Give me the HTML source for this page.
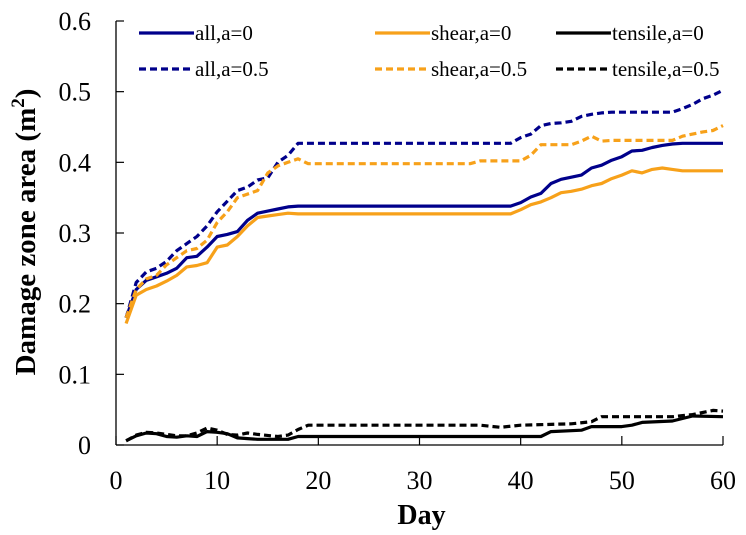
<!DOCTYPE html>
<html><head><meta charset="utf-8"><style>
html,body{margin:0;padding:0;background:#fff;}
svg{display:block;font-family:"Liberation Serif",serif;}
</style></head><body>
<svg id="chart" width="746" height="535">
<g id="axes"></g><g id="series"></g><g id="legend"></g>
</svg>
<script>
const xTicks=[0,10,20,30,40,50,60];
const yTicks=[0,0.1,0.2,0.3,0.4,0.5,0.6];
const yTickLabels=["0","0.1","0.2","0.3","0.4","0.5","0.6"];
const all0Days=[1,2,3,4,5,6,7,8,9,10,11,12,13,14,15,16,17,18,39,40,41,42,43,44,45,46,47,48,49,50,51,52,53,54,55,56,60];
const all0Vals=[0.18,0.22,0.233,0.238,0.243,0.25,0.265,0.267,0.28,0.295,0.298,0.302,0.318,0.328,0.331,0.334,0.337,0.338,0.338,0.343,0.351,0.356,0.37,0.376,0.379,0.382,0.392,0.396,0.403,0.408,0.416,0.417,0.421,0.424,0.426,0.427,0.427];
const shear0Days=[1,2,3,4,5,6,7,8,9,10,11,12,13,14,15,16,17,18,39,40,41,42,43,44,45,46,47,48,49,50,51,52,53,54,55,56,60];
const shear0Vals=[0.172,0.212,0.22,0.225,0.232,0.24,0.252,0.254,0.258,0.28,0.283,0.295,0.31,0.322,0.324,0.326,0.328,0.327,0.327,0.333,0.34,0.344,0.35,0.357,0.359,0.362,0.367,0.37,0.377,0.382,0.388,0.385,0.39,0.392,0.39,0.388,0.388];
const tens0Days=[1,2,3,4,5,6,7,8,9,10,11,12,13,14,17,18,42,43,46,47,50,51,52,55,57,60];
const tens0Vals=[0.006,0.013,0.017,0.016,0.012,0.011,0.013,0.012,0.019,0.018,0.016,0.01,0.009,0.008,0.008,0.012,0.012,0.019,0.021,0.026,0.026,0.028,0.032,0.034,0.041,0.04];
const all5Days=[1,2,3,4,5,6,7,8,9,10,11,12,13,14,15,16,17,18,39,40,41,42,43,44,45,46,47,48,49,55,56,57,58,59,60];
const all5Vals=[0.18,0.23,0.245,0.25,0.26,0.275,0.285,0.295,0.31,0.33,0.345,0.36,0.365,0.375,0.378,0.4,0.41,0.427,0.427,0.435,0.44,0.452,0.455,0.456,0.458,0.465,0.468,0.47,0.471,0.471,0.476,0.482,0.49,0.495,0.502];
const shear5Days=[1,2,3,4,5,6,7,8,9,10,11,12,13,14,15,16,17,18,19,35,36,40,41,42,45,46,47,48,49,55,56,58,59,60];
const shear5Vals=[0.18,0.22,0.235,0.24,0.255,0.265,0.275,0.278,0.29,0.315,0.33,0.35,0.355,0.36,0.385,0.395,0.4,0.405,0.398,0.398,0.402,0.402,0.41,0.425,0.425,0.43,0.437,0.43,0.431,0.431,0.437,0.443,0.445,0.452];
const tens5Days=[1,2,3,4,5,6,7,8,9,10,11,12,13,14,16,17,18,19,36,38,40,45,47,48,55,57,59,60];
const tens5Vals=[0.006,0.014,0.018,0.017,0.015,0.013,0.013,0.017,0.024,0.021,0.015,0.014,0.017,0.015,0.012,0.014,0.022,0.028,0.028,0.025,0.028,0.03,0.033,0.04,0.04,0.043,0.049,0.048];

const NS="http://www.w3.org/2000/svg";
const X0=116,X1=723,Y0=445,Y1=21;
function sx(d){return X0+(d-0)/(60-0)*(X1-X0);}
function sy(v){return Y0-(v-0)/(0.6-0)*(Y0-Y1);}
function mk(tag,attrs,parent){const e=document.createElementNS(NS,tag);for(const k in attrs)e.setAttribute(k,attrs[k]);parent.appendChild(e);return e;}
const axes=document.getElementById('axes');
let e=mk('line',{x1:X0,y1:Y1,x2:X0,y2:Y0,stroke:'#000','stroke-width':1.3},axes);


e=mk('line',{x1:X0,y1:Y0,x2:X1,y2:Y0,stroke:'#000','stroke-width':1.3},axes);


xTicks.forEach(t=>{
  mk('line',{x1:sx(t),y1:Y0,x2:sx(t),y2:Y0-9,stroke:'#000','stroke-width':1.2},axes);
  const tx=mk('text',{x:sx(t),y:Y0+44,'text-anchor':'middle','font-size':26},axes);
  tx.textContent=t;
  
  
});
yTicks.forEach((t,i)=>{
  mk('line',{x1:X0,y1:sy(t),x2:X0+8,y2:sy(t),stroke:'#000','stroke-width':1.2},axes);
  const tx=mk('text',{x:91,y:sy(t)+9,'text-anchor':'end','font-size':26},axes);
  tx.textContent=yTickLabels[i];
  
  
});
let t=mk('text',{x:(X0+X1)/2+2,y:524,'text-anchor':'middle','font-size':28,'font-weight':'bold'},axes);
t.textContent='Day';


t=mk('text',{transform:'translate(35,232) rotate(-90)','text-anchor':'middle','font-size':29,'font-weight':'bold'},axes);
t.innerHTML='Damage zone area (m<tspan dy="-11" font-size="19">2</tspan><tspan dy="11">)</tspan>';



const series=[
 {d:all0Days,v:all0Vals,c:'#00008B',dash:null,n:'all,a=0',id:'series-all-a0'},
 {d:shear0Days,v:shear0Vals,c:'#F7A11A',dash:null,n:'shear,a=0',id:'series-shear-a0'},
 {d:tens0Days,v:tens0Vals,c:'#000',dash:null,n:'tensile,a=0',id:'series-tensile-a0'},
 {d:all5Days,v:all5Vals,c:'#00008B',dash:'7,4',n:'all,a=0.5',id:'series-all-a05'},
 {d:shear5Days,v:shear5Vals,c:'#F7A11A',dash:'7,4',n:'shear,a=0.5',id:'series-shear-a05'},
 {d:tens5Days,v:tens5Vals,c:'#000',dash:'7,4',n:'tensile,a=0.5',id:'series-tensile-a05'}
];
const sg=document.getElementById('series');
series.forEach(s=>{
  const pts=s.d.map((d,i)=>sx(d).toFixed(1)+','+sy(s.v[i]).toFixed(1)).join(' ');
  const a={points:pts,fill:'none',stroke:s.c,'stroke-width':3.2,'stroke-linejoin':'round'};
  if(s.dash)a['stroke-dasharray']=s.dash;
  const p=mk('polyline',a,sg);
  
  
});
const lg=document.getElementById('legend');
const cols=[139,375,556],rows=[33,69];
series.forEach((s,i)=>{
  const cx=cols[i%3],cy=rows[Math.floor(i/3)];
  const g=mk('g',{},lg);
  
  
  const a={x1:cx,y1:cy,x2:cx+55,y2:cy,stroke:s.c,'stroke-width':3.2};
  if(s.dash)a['stroke-dasharray']=s.dash;
  mk('line',a,g);
  const tx=mk('text',{x:cx+56,y:cy+7,'font-size':21},g);
  tx.textContent=s.n;
});
</script>
</body></html>
